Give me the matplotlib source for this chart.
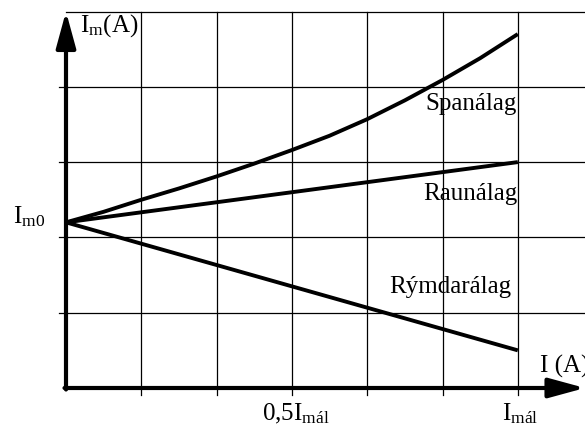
import matplotlib
matplotlib.use("Agg")
import matplotlib.pyplot as plt

plt.rcParams['font.family'] = ['Liberation Serif', 'DejaVu Serif']
plt.rcParams['mathtext.fontset'] = 'custom'
plt.rcParams['mathtext.rm'] = 'Liberation Serif'
plt.rcParams['mathtext.it'] = 'Liberation Serif'

# x in grid units: 0..6, 6 = I_mál, 3 = 0,5 I_mál
x = [0, 0.5, 1, 1.5, 2, 2.5, 3, 3.5, 4, 4.5, 5, 5.5, 6]
spanalag = [2.2, 2.34, 2.5, 2.65, 2.81, 2.98, 3.16, 3.35, 3.57, 3.82, 4.09, 4.38, 4.7]
x_lin = [0, 6]
raunalag = [2.2, 3.0]
rymdaralag = [2.2, 0.5]

px = 75.3  # pixels per grid unit
fig = plt.figure(figsize=(5.85, 4.32), dpi=100)
ax = fig.add_axes([0, 0, 1, 1])
ax.set_xlim(-66 / px, (585 - 66) / px)
ax.set_ylim(-(432 - 388) / px, 388 / px)
ax.axis('off')

xr = (585 - 66) / px
# grid
for i in range(1, 7):
    ax.plot([i, i], [-0.093, 5], color='k', lw=0.9)
for j in range(1, 5):
    ax.plot([-0.093, xr], [j, j], color='k', lw=0.9)
ax.plot([0, xr], [5, 5], color='k', lw=0.9)

# axes with arrows
arr = dict(arrowstyle='-|>,head_length=1.1,head_width=0.3', lw=3.0, color='k',
           mutation_scale=20, shrinkA=0, shrinkB=0)
ax.annotate('', xy=(0, 5.0), xytext=(0, -0.02), arrowprops=arr)
ax.annotate('', xy=(xr, 0), xytext=(-0.02, 0), arrowprops=arr)

# curves
ax.plot(x, spanalag, color='k', lw=2.8, solid_capstyle='butt', solid_joinstyle='round')
ax.plot(x_lin, raunalag, color='k', lw=2.8, solid_capstyle='butt')
ax.plot(x_lin, rymdaralag, color='k', lw=2.8, solid_capstyle='butt')

fs = 18
ax.text(5.98, 3.69, 'Spanálag', fontsize=fs, ha='right', va='baseline')
ax.text(5.99, 2.50, 'Raunálag', fontsize=fs, ha='right', va='baseline')
ax.text(5.91, 1.26, 'Rýmdarálag', fontsize=fs, ha='right', va='baseline')
ax.text(6.29, 0.20, 'I (A)', fontsize=fs, ha='left', va='baseline')
ax.text(0.19, 4.73, r'I$_\mathrm{m}$(A)', fontsize=fs, ha='left', va='baseline')
ax.text(-0.70, 2.18, r'I$_\mathrm{m0}$', fontsize=fs, ha='left', va='baseline')
ax.text(2.60, -0.425, r'0,5I$_\mathrm{mál}$', fontsize=fs, ha='left', va='baseline')
ax.text(5.79, -0.425, r'I$_\mathrm{mál}$', fontsize=fs, ha='left', va='baseline')

fig.savefig('out.png', dpi=100)
